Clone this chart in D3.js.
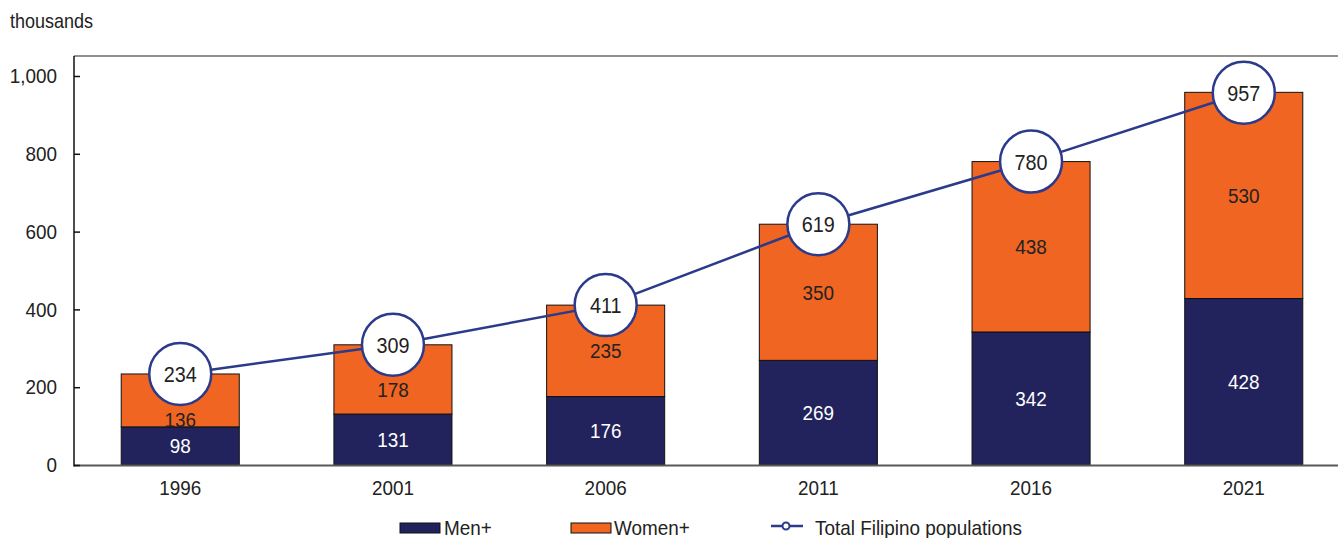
<!DOCTYPE html>
<html lang="en">
<head>
  <meta charset="utf-8">
  <title>Filipino populations</title>
  <script src="https://cdn.jsdelivr.net/npm/d3@7"></script>
  <style>
    body { margin: 0; background: #fff; }
    svg { display: block; font-family: "Liberation Sans", Arial, sans-serif; }
  </style>
</head>
<body>
  <svg id="chart" width="1338" height="538"></svg>
  <script>
    // data
    var years = ["1996", "2001", "2006", "2011", "2016", "2021"];
    var men = [98, 131, 176, 269, 342, 428];
    var women = [136, 178, 235, 350, 438, 530];
    var total = [234, 309, 411, 619, 780, 957];
    var yTicks = [0, 200, 400, 600, 800, 1000];

    var navy = "#22235c", orange = "#f06522", lineBlue = "#2b3a8a", ink = "#222";
    var SX = 0.9; // squeeze text horizontally, the original uses a condensed face

    // squeeze a text selection, keeping its x position
    function narrow(sel) {
      sel.each(function () {
        var t = d3.select(this);
        var xv = +t.attr("x") || 0;
        t.attr("x", xv / SX).attr("transform", "scale(" + SX + ",1)");
      });
    }

    var svg = d3.select("#chart");
    var plotTop = 56, plotLeft = 74, plotBottom = 465, plotRight = 1350;

    var x = d3.scaleBand().domain(years).range([plotLeft, plotRight]).paddingInner(0.445).paddingOuter(0.222);
    var y = d3.scaleLinear().domain([0, 1000]).range([plotBottom, 76]);
    var r = 31;
    var cx = function (yr) { return x(yr) + x.bandwidth() / 2; };

    // frame top line
    svg.append("line")
      .attr("x1", plotLeft).attr("x2", 1338)
      .attr("y1", plotTop).attr("y2", plotTop)
      .attr("stroke", "#222").attr("stroke-width", 1.2);

    svg.append("text").attr("x", 10).attr("y", 28)
      .attr("font-size", 20).attr("fill", ink).text("thousands")
      .call(narrow);

    // stacked bars
    var g = svg.append("g");
    years.forEach(function (yr, i) {
      g.append("rect")
        .attr("x", x(yr)).attr("width", x.bandwidth())
        .attr("y", y(men[i])).attr("height", y(0) - y(men[i]))
        .attr("fill", navy).attr("stroke", "#111").attr("stroke-width", 1);
      g.append("rect")
        .attr("x", x(yr)).attr("width", x.bandwidth())
        .attr("y", y(men[i] + women[i])).attr("height", y(men[i]) - y(men[i] + women[i]))
        .attr("fill", orange).attr("stroke", "#111").attr("stroke-width", 1);
    });

    // bottom axis
    svg.append("line")
      .attr("x1", plotLeft).attr("x2", 1338)
      .attr("y1", plotBottom + 0.5).attr("y2", plotBottom + 0.5)
      .attr("stroke", "#595959").attr("stroke-width", 2);

    // left axis
    var yAxis = svg.append("g").attr("transform", "translate(" + plotLeft + ",0)")
      .call(d3.axisLeft(y).tickValues(yTicks).tickSize(-6).tickPadding(17).tickFormat(d3.format(",")));
    yAxis.select(".domain").remove();
    yAxis.selectAll(".tick line").attr("stroke", "#111").attr("stroke-width", 1.5);
    yAxis.selectAll(".tick text").attr("font-size", 21).attr("fill", ink)
      .attr("font-family", null).call(narrow);
    svg.append("line")
      .attr("x1", plotLeft).attr("x2", plotLeft)
      .attr("y1", plotTop).attr("y2", plotBottom + 1.5)
      .attr("stroke", "#111").attr("stroke-width", 1.5);

    // x labels
    svg.append("g").selectAll("text").data(years).join("text")
      .attr("x", function (d) { return cx(d); })
      .attr("y", 495)
      .attr("text-anchor", "middle").attr("font-size", 21).attr("fill", ink)
      .text(function (d) { return d; })
      .call(narrow);

    // segment labels, women label pushed below the circle when it would clash
    years.forEach(function (yr, i) {
      g.append("text")
        .attr("x", cx(yr)).attr("y", (y(0) + y(men[i])) / 2)
        .attr("dy", "0.36em").attr("text-anchor", "middle")
        .attr("font-size", 21).attr("fill", "#fff").text(men[i])
        .call(narrow);
      var mid = (y(men[i]) + y(men[i] + women[i])) / 2;
      var ly = Math.max(mid, y(total[i]) + r + 14);
      g.append("text")
        .attr("x", cx(yr)).attr("y", ly)
        .attr("dy", "0.36em").attr("text-anchor", "middle")
        .attr("font-size", 21).attr("fill", ink).text(women[i])
        .call(narrow);
    });

    // total line with circled labels
    var line = d3.line()
      .x(function (d, i) { return cx(years[i]); })
      .y(function (d) { return y(d); });
    svg.append("path").datum(total)
      .attr("d", line).attr("fill", "none")
      .attr("stroke", lineBlue).attr("stroke-width", 2.5);

    var dots = svg.append("g").selectAll("g").data(total).join("g")
      .attr("transform", function (d, i) { return "translate(" + cx(years[i]) + "," + y(d) + ")"; });
    dots.append("circle").attr("r", r)
      .attr("fill", "#fff").attr("stroke", lineBlue).attr("stroke-width", 2.5);
    dots.append("text")
      .attr("dy", "0.36em").attr("text-anchor", "middle")
      .attr("font-size", 22).attr("fill", ink)
      .text(function (d) { return d; })
      .call(narrow);

    // legend
    var leg = svg.append("g");
    leg.append("rect").attr("x", 400).attr("y", 523).attr("width", 40).attr("height", 10)
      .attr("fill", navy).attr("stroke", "#111").attr("stroke-width", 1);
    leg.append("text").attr("x", 444).attr("y", 535).attr("font-size", 21).attr("fill", ink).text("Men+").call(narrow);
    leg.append("rect").attr("x", 571).attr("y", 523).attr("width", 40).attr("height", 10)
      .attr("fill", orange).attr("stroke", "#111").attr("stroke-width", 1);
    leg.append("text").attr("x", 614).attr("y", 535).attr("font-size", 21).attr("fill", ink).text("Women+").call(narrow);
    leg.append("line").attr("x1", 771).attr("x2", 803).attr("y1", 526).attr("y2", 526)
      .attr("stroke", lineBlue).attr("stroke-width", 2.5);
    leg.append("circle").attr("cx", 786).attr("cy", 526).attr("r", 3.5)
      .attr("fill", "#fff").attr("stroke", lineBlue).attr("stroke-width", 2);
    leg.append("text").attr("x", 815).attr("y", 535).attr("font-size", 21).attr("fill", ink)
      .text("Total Filipino populations").call(narrow);
  </script>
</body>
</html>
